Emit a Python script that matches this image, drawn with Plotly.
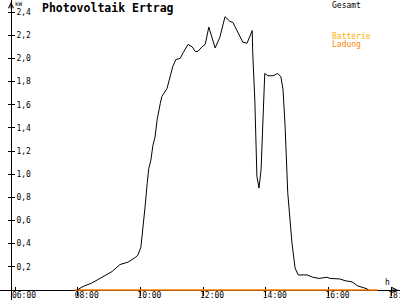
import plotly.graph_objects as go

DAY = "2024-06-01 "

# Gesamt (total PV output, kW)
times = ["07:59","08:10","08:27","08:47","09:06","09:21","09:36","09:50","09:55","10:01",
         "10:05","10:09","10:13","10:16","10:20","10:24","10:28","10:32","10:38","10:41",
         "10:51","10:55","11:02","11:08","11:16","11:22","11:31","11:39","11:45","11:50",
         "11:58","12:04","12:11","12:23","12:32","12:42","12:51","12:57","13:07","13:16",
         "13:24","13:34","13:35","13:39","13:43","13:47","13:51","13:55","13:58","14:04",
         "14:14","14:23","14:29","14:33","14:37","14:42","14:50","14:56","15:02","15:19",
         "15:30","15:42","15:57","16:03","16:22","16:32","16:45","16:56","17:14","17:16"]
values = [0, 0.03, 0.06, 0.11, 0.16, 0.22, 0.24, 0.28, 0.30, 0.37,
          0.52, 0.72, 0.92, 1.05, 1.12, 1.25, 1.32, 1.47, 1.61, 1.67,
          1.74, 1.81, 1.93, 1.99, 2.00, 2.05, 2.12, 2.10, 2.06, 2.06,
          2.10, 2.12, 2.27, 2.09, 2.18, 2.36, 2.32, 2.31, 2.22, 2.14,
          2.13, 2.24, 2.05, 1.64, 0.98, 0.88, 1.04, 1.61, 1.87, 1.85,
          1.85, 1.87, 1.84, 1.73, 1.41, 0.84, 0.41, 0.19, 0.13, 0.13,
          0.11, 0.10, 0.11, 0.10, 0.095, 0.08, 0.07, 0.035, 0.01, 0]

# Batterie Ladung (battery charging, kW)
bat_times = ["07:54", "17:34"]
bat_values = [0, 0]

x_ticks = ["06:00", "08:00", "10:00", "12:00", "14:00", "16:00", "18:00"]
y_ticks = [0.2, 0.4, 0.6, 0.8, 1.0, 1.2, 1.4, 1.6, 1.8, 2.0, 2.2, 2.4]

X_RANGE = [DAY + "05:31:17", DAY + "18:16:52"]
Y_RANGE = [-0.0864, 2.504]
YPOS = 11 / 400
XPOS = 10 / 300
FONT = "DejaVu Sans Mono"

fig = go.Figure()
fig.add_trace(go.Scatter(x=[DAY + t for t in bat_times], y=bat_values, mode="lines",
                         line=dict(color="#FF8000", width=1.6), hoverinfo="skip"))
fig.add_trace(go.Scatter(x=[DAY + t for t in times], y=values, mode="lines",
                         line=dict(color="black", width=1), hoverinfo="skip"))
fig.add_trace(go.Scatter(x=[], y=[], xaxis="x2", yaxis="y2", hoverinfo="skip"))

tv = [DAY + t for t in x_ticks]
common_x = dict(type="date", range=X_RANGE, anchor="free", position=XPOS,
                tickvals=tv, showgrid=False, zeroline=False, layer="below traces",
                automargin=False)
common_y = dict(range=Y_RANGE, anchor="free", position=YPOS, tickvals=y_ticks,
                showgrid=False, zeroline=False, layer="below traces",
                automargin=False)

fig.update_layout(
    width=400, height=300, margin=dict(l=0, r=0, t=0, b=0, autoexpand=False),
    paper_bgcolor="white", plot_bgcolor="white", showlegend=False,
    separators=",.",
    xaxis=dict(**common_x, ticktext=x_ticks, showline=True, linecolor="black", linewidth=1,
               ticks="inside", ticklen=3, tickcolor="black",
               ticklabelshift=9, ticklabelstandoff=-3, ticklabeloverflow="allow",
               tickfont=dict(family=FONT, size=8, color="black")),
    yaxis=dict(**common_y, showline=True, linecolor="black", linewidth=1,
               ticks="outside", ticklen=3, tickcolor="black", showticklabels=False),
    xaxis2=dict(**common_x, overlaying="x", showline=False, showticklabels=False,
                ticks="outside", ticklen=5, tickcolor="black"),
    yaxis2=dict(**common_y, overlaying="y", side="left", showline=False,
                tickformat=".1f", ticks="inside", ticklen=3, tickcolor="black",
                ticklabelposition="inside", ticklabelstandoff=0,
                tickfont=dict(family=FONT, size=8, color="black")),
)

ann = [
    dict(text="<b>Photovoltaik Ertrag</b>", x=40 / 400, y=1 - 8 / 300, xref="paper", yref="paper",
         xanchor="left", yanchor="middle", showarrow=False,
         font=dict(family=FONT, size=11.5, color="black")),
    dict(text="kW", x=13 / 400, y=1 - 4 / 300, xref="paper", yref="paper",
         xanchor="left", yanchor="middle", showarrow=False,
         font=dict(family=FONT, size=6, color="black")),
    dict(text="Gesamt", x=330 / 400, y=1 - 5 / 300, xref="paper", yref="paper",
         xanchor="left", yanchor="middle", showarrow=False,
         font=dict(family=FONT, size=8, color="black")),
    dict(text="Batterie", x=330 / 400, y=1 - 36 / 300, xref="paper", yref="paper",
         xanchor="left", yanchor="middle", showarrow=False,
         font=dict(family=FONT, size=8, color="#FFB000")),
    dict(text="Ladung", x=330 / 400, y=1 - 44 / 300, xref="paper", yref="paper",
         xanchor="left", yanchor="middle", showarrow=False,
         font=dict(family=FONT, size=8, color="#FF8800")),
    dict(text="h", x=387 / 400, y=1 - 282 / 300, xref="paper", yref="paper",
         xanchor="center", yanchor="middle", showarrow=False,
         font=dict(family=FONT, size=8, color="black")),
    # axis arrowheads
    dict(text="", x=398 / 400, y=XPOS, xref="paper", yref="paper", ax=-8, ay=0,
         showarrow=True, arrowhead=5, arrowsize=1, arrowwidth=1, arrowcolor="black"),
    dict(text="", x=YPOS, y=1 - 2 / 300, xref="paper", yref="paper", ax=0, ay=8,
         showarrow=True, arrowhead=5, arrowsize=1, arrowwidth=1, arrowcolor="black"),
]
fig.update_layout(annotations=ann)

fig.write_html("out.html")
